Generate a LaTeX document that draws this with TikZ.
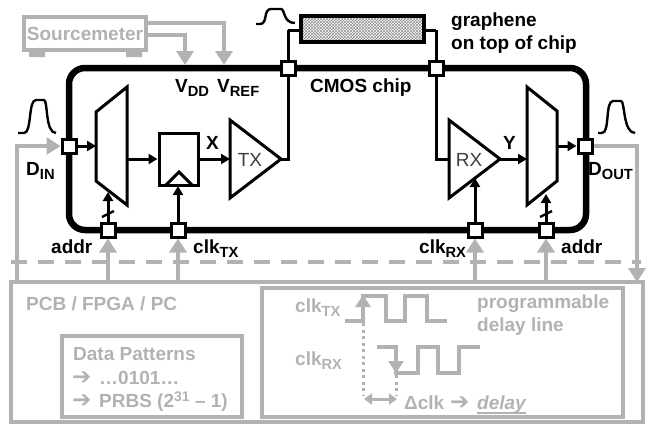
\documentclass[tikz,border=0pt]{standalone}
\usepackage{fontspec}
\setmainfont{Liberation Sans}
\newfontfamily\arrowfont{DejaVu Sans}
\usetikzlibrary{arrows.meta,patterns}
\definecolor{gr}{HTML}{B2B2B2}
\newcommand{\fs}[1]{\fontsize{#1}{#1}\selectfont}
\newcommand{\subt}[1]{\raisebox{-4.5pt}{\fs{14.7}#1}}
\newcommand{\fatarrow}{{\arrowfont\fontsize{23}{23}\selectfont\symbol{"2794}}}
\tikzset{
 x=1pt,y=-1pt,
 wire/.style={draw=black,line width=3pt,line join=miter},
 warrow/.style={wire,-{Triangle[length=9pt,width=10pt]}},
 garrow/.style={draw=gr,line width=4pt,-{Triangle[length=14pt,width=17pt]}},
 gbox/.style={draw=gr,line width=3.4pt,fill=none},
 padbox/.style={draw=black,fill=white,line width=3pt,minimum size=14pt,inner sep=0pt},
 blabel/.style={font=\bfseries\fs{19},text=black,inner sep=0pt,anchor=base west},
 glabel/.style={font=\bfseries\fs{19},text=gr,inner sep=0pt,anchor=base west},
 ampl/.style={wire,fill=white},
 pulse/.style={draw=black,line width=2.4pt},
 gwave/.style={draw=gr,line width=3.2pt},
 gdot/.style={draw=gr,line width=3pt,dash pattern=on 3pt off 3.5pt},
 gthick/.style={draw=gr,line width=4.5pt,-{Triangle[length=12pt,width=15pt]}},
}
\begin{document}
\begin{tikzpicture}
\useasboundingbox (0,0) rectangle (650,424);
% chip outline
\draw[line width=6.5pt,rounded corners=16pt] (69,68) rectangle (586,230);
% graphene
\node[draw=black,line width=3.4pt,minimum width=123pt,minimum height=26pt,inner sep=0pt,pattern=crosshatch,pattern color=black!45] (gra) at (362.5,29) {};
% sourcemeter
\node[gbox,minimum width=122pt,minimum height=33pt,inner sep=0pt,text=gr,font=\bfseries\fs{19}] (sm) at (85,33.5) {Sourcemeter};
\fill[gr] (29,51) rectangle (45,57) (126,51) rectangle (142,57);
\coordinate (vdd) at (185,65);
\coordinate (vref) at (224,65);
\draw[garrow] (sm.east|-0,35) -| (vdd);
\draw[garrow] (sm.east|-0,23) -| (vref);
% blocks
\coordinate (m1a) at (127,87);\coordinate (m1b) at (96,112);\coordinate (m1c) at (96,181);\coordinate (m1d) at (127,205);
\draw[wire] (m1a)--(m1b)--(m1c)--(m1d)--cycle;
\coordinate (m2a) at (527,87);\coordinate (m2b) at (557,111);\coordinate (m2c) at (557,181);\coordinate (m2d) at (527,205);
\draw[wire] (m2a)--(m2b)--(m2c)--(m2d)--cycle;
\node[draw=black,line width=3pt,minimum width=39pt,minimum height=52pt,inner sep=0pt] (ff) at (178.5,159) {};
\draw[wire] (166,185)--(179,172)--(192,185);
\coordinate (txo) at (281,159);
\coordinate (rxo) at (500,159);
\draw[wire] (288,30) -- (288,159) -- (txo);
\draw[wire] (436,30) -- (436,159) -- (449,159);
\draw[wire] (gra.west|-0,30) -- (288,30);
\draw[wire] (gra.east|-0,30) -- (436,30);
\draw[ampl] (230,120)--(230,198)--(txo)--cycle;
\draw[ampl] (449,120)--(449,198)--(rxo)--cycle;
\node[font=\fs{19},inner sep=0pt,text=black!75] (tx) at (250,159.5) {TX};
\node[font=\fs{19},inner sep=0pt,text=black!75] (rx) at (469,159.5) {RX};
% pads
\node[padbox] (pTL) at (288,68) {};
\node[padbox] (pTR) at (436,68) {};
\node[padbox] (pIn) at (69,146) {};
\node[padbox] (pOut) at (585,146) {};
\node[padbox] (pA1) at (108,230) {};
\node[padbox] (pCT) at (178,230) {};
\node[padbox] (pCR) at (475,230) {};
\node[padbox] (pA2) at (546,230) {};
% signal wires
\draw[warrow] (pIn) -- (96,146);
\draw[warrow] (127,159) -- (ff.west|-0,159);
\draw[warrow] (ff.east|-0,159) -- (230,159);
\draw[warrow] (rxo) -- (527,159);
\draw[warrow] (557,146) -- (pOut.west);
\draw[warrow] (pCT) -- (178,186);
\draw[warrow] (pCR) -- (475,178);
\draw[warrow] (pA1) -- (108,192);
\draw[warrow] (pA2) -- (546,194);
\draw[wire,line width=2.4pt] (102,217)--(114,211);
\draw[wire,line width=2.4pt] (540,217)--(552,211);
% gray boxes
\node[gbox,minimum width=632pt,minimum height=140pt,inner sep=0pt] (pcb) at (327,352) {};
\node[gbox,minimum width=180pt,minimum height=81pt,inner sep=0pt] (dp) at (152,376.5) {};
\node[gbox,minimum width=361pt,minimum height=129pt,inner sep=0pt] (dl) at (442.5,352.5) {};
\draw[draw=gr,line width=3.4pt,dash pattern=on 16pt off 11pt] (11,262) -- (641,262);
% gray connections
\draw[garrow] (17,282) |- (pIn.west);
\draw[garrow] (pOut.east) -| (637,282);
\draw[garrow] (108,282) -- (pA1.south);
\draw[garrow] (178,282) -- (pCT.south);
\draw[garrow] (475,282) -- (pCR.south);
\draw[garrow] (546,282) -- (pA2.south);
% pulses
\draw[pulse] (18,133)--(24,133) .. controls (32,133) and (28,100) .. (36,100) -- (44,100) .. controls (48,100) and (45,133) .. (56,133);
\draw[pulse] (598,133)--(602,133) .. controls (610,133) and (605,101) .. (613,101) -- (621,101) .. controls (625,101) and (623,133) .. (635,133);
\draw[pulse] (256,24)--(260,24) .. controls (268,24) and (263,9) .. (271,9) -- (281,9) .. controls (285,9) and (283,23) .. (295,23);
% waveforms
\draw[gwave] (345,321)--(363,321)--(363,296)--(386,296)--(386,321)--(405,321)--(405,296)--(427,296)--(427,321)--(447,321);
\draw[gwave] (377,347)--(396,347)--(396,373)--(418,373)--(418,347)--(438,347)--(438,373)--(459,373)--(459,347)--(480,347);
\draw[gthick] (363,321)--(363,295);
\draw[gthick] (396,347)--(396,373);
\draw[gdot] (363,323)--(363,396);
\draw[gdot] (396,375)--(396,396);
\draw[draw=gr,line width=3pt,{Triangle[length=8pt,width=11pt]}-{Triangle[length=8pt,width=11pt]}] (364,399)--(397,399);
% black labels
\node[blabel] (vddl) at (175,92) {V\subt{DD}};
\node[blabel] (vrefl) at (217,92) {V\subt{REF}};
\node[blabel] (cmos) at (310,92) {CMOS chip};
\node[blabel] (gl1) at (451,26) {graphene};
\node[blabel] (gl2) at (451,49) {on top of chip};
\node[blabel] (din) at (26,175) {D\subt{IN}};
\node[blabel] (dout) at (588,175) {D\subt{OUT}};
\node[blabel] (xl) at (206,149) {X};
\node[blabel] (yl) at (503,149) {Y};
\node[blabel] (a1) at (51,253) {addr};
\node[blabel] (a2) at (561,253) {addr};
\node[blabel] (ct) at (193,253) {clk\subt{TX}};
\node[blabel] (cr) at (419,253) {clk\subt{RX}};
% gray labels
\node[glabel] (pcbl) at (26,310) {PCB / FPGA / PC};
\node[glabel] (dpl) at (73,360) {Data Patterns};
\node[glabel] (a3) at (72,384) {\fatarrow};
\node[glabel] (d1) at (99,384) {…0101…};
\node[glabel] (a4) at (72,407) {\fatarrow};
\node[glabel] (d2) at (99,407) {PRBS (2\raisebox{6pt}{\fs{14}31} – 1)};
\node[glabel] (cg1) at (295,312) {clk\subt{TX}};
\node[glabel] (cg2) at (295,365) {clk\subt{RX}};
\node[glabel] (pr1) at (477,308) {programmable};
\node[glabel] (pr2) at (477,331) {delay line};
\node[glabel] (dc) at (404,409) {Δclk};
\node[glabel] (a5) at (450,409) {\fatarrow};
\node[glabel] (dly) at (477,409) {\textit{delay}};
\draw[draw=gr,line width=1.8pt] (477,413)--(526,413);
\end{tikzpicture}
\end{document}
